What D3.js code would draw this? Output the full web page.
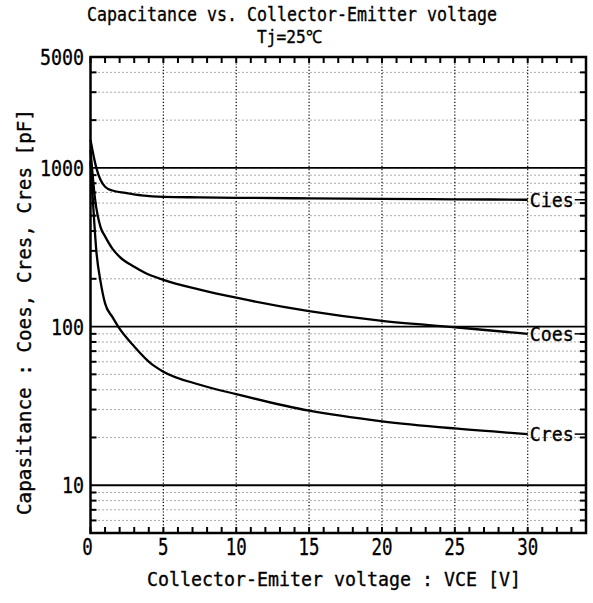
<!DOCTYPE html>
<html><head><meta charset="utf-8">
<script src="https://cdn.jsdelivr.net/npm/d3@7"></script>
<style>body{margin:0;background:#fff}svg{display:block}text{font-family:"DejaVu Sans Mono",monospace;fill:#000;stroke:#000;stroke-width:0.35}</style>
</head><body><svg id="c" width="593" height="603"></svg>
<script>
const titleLines = ["Capacitance vs. Collector-Emitter voltage", "Tj=25℃"];
const xLabel = "Collector-Emiter voltage : VCE [V]";
const yLabel = "Capasitance : Coes, Cres, Cres [pF]";
const xTickValues = [0, 5, 10, 15, 20, 25, 30];
const yTickValues = [10, 100, 1000, 5000];
const seriesNames = ["Cies", "Coes", "Cres"];
const ciesX = [0, 0.4, 1.0, 1.5, 2.4, 3.5, 5, 7.5, 10, 15, 20, 25, 30];
const ciesY = [1500, 1000, 760, 720, 696, 672, 657, 652, 648, 643, 638, 634, 630];
const coesX = [0, 0.3, 0.7, 1.0, 1.5, 2.0, 3.0, 3.7, 5, 7.5, 10, 15, 20, 25, 30];
const coesY = [1300, 650, 420, 370, 310, 275, 238, 219, 197, 171, 152, 125, 108.5, 99, 90];
const cresX = [0, 0.2, 0.4, 0.7, 1.0, 1.5, 1.9, 3.0, 4.2, 5, 7.5, 10, 15, 20, 25, 30];
const cresY = [1100, 550, 300, 190, 140, 115, 100, 75, 58, 52, 43, 37.5, 29.5, 25.3, 22.8, 21];

const svg = d3.select("#c");
const L = 90.5, R = 586, T = 57, B = 533;
const x = d3.scaleLinear().domain([0, 34]).range([L, R]);
const y = d3.scaleLog().domain([5, 5000]).range([B, T]);

function txt(g, s, cw, size) {
  return g.append("text").text(s).attr("font-size", size)
    .attr("textLength", cw * [...s].length).attr("lengthAdjust", "spacingAndGlyphs");
}

const minorY = [];
[1, 10, 100, 1000].forEach(d => { for (let k = 2; k <= 9; k++) minorY.push(d * k); });
const minorYs = Array.from(new Set(minorY)).filter(v => v > 5 && v < 5000);
svg.append("g").selectAll("line").data(minorYs).join("line")
  .attr("x1", L).attr("x2", R).attr("y1", d => y(d)).attr("y2", d => y(d))
  .attr("stroke", "#555").attr("stroke-width", 1).attr("stroke-dasharray", "1,3");
svg.append("g").selectAll("line").data(xTickValues.filter(v => v > 0)).join("line")
  .attr("x1", d => x(d)).attr("x2", d => x(d)).attr("y1", T).attr("y2", B)
  .attr("stroke", "#000").attr("stroke-width", 1.2).attr("stroke-dasharray", "1.2,2");
svg.append("g").selectAll("line").data([10, 100, 1000]).join("line")
  .attr("x1", L).attr("x2", R).attr("y1", d => y(d)).attr("y2", d => y(d))
  .attr("stroke", "#000").attr("stroke-width", 1.8);

const xMinor = d3.range(0, 35, 1);
const tk = svg.append("g").attr("stroke", "#000").attr("stroke-width", 2);
tk.selectAll(".xb").data(xMinor).join("line").attr("x1", d => x(d)).attr("x2", d => x(d)).attr("y1", B).attr("y2", B - 6);
tk.selectAll(".xt").data(xMinor).join("line").attr("x1", d => x(d)).attr("x2", d => x(d)).attr("y1", T).attr("y2", T + 6);
tk.selectAll(".yl").data(minorYs).join("line").attr("x1", L).attr("x2", L + 6).attr("y1", d => y(d)).attr("y2", d => y(d));
tk.selectAll(".yr").data(minorYs).join("line").attr("x1", R).attr("x2", R - 6).attr("y1", d => y(d)).attr("y2", d => y(d));

const line = d3.line().x(d => x(d[0])).y(d => y(d[1])).curve(d3.curveMonotoneX);
const series = [[ciesX, ciesY], [coesX, coesY], [cresX, cresY]];
series.forEach(([xs, ys], i) => {
  svg.append("path").datum(xs.map((v, j) => [v, ys[j]])).attr("d", line)
    .attr("fill", "none").attr("stroke", "#000").attr("stroke-width", 2.3);
  const ly = y(ys[ys.length - 1]);
  txt(svg, seriesNames[i], 11, 20).attr("x", x(30) + 2).attr("y", ly + 7);
  svg.append("line").attr("x1", x(30) + 47).attr("x2", R).attr("y1", ly).attr("y2", ly)
    .attr("stroke", "#000").attr("stroke-width", 1.5);
});

svg.append("rect").attr("x", L).attr("y", T).attr("width", R - L).attr("height", B - T)
  .attr("fill", "none").attr("stroke", "#000").attr("stroke-width", 2.5);

yTickValues.forEach(v => {
  const s = String(v);
  txt(svg, s, 11, 21).attr("x", 84 - 11 * s.length).attr("y", y(v) + 8);
});
xTickValues.forEach(v => {
  const s = String(v);
  txt(svg, s, 10.5, 23).attr("x", x(v) - 10.5 * s.length / 2 - (v === 0 ? 3 : 0)).attr("y", 555);
});

txt(svg, titleLines[0], 10, 19.5).attr("x", 87).attr("y", 21);
txt(svg, titleLines[1], 10.8, 18).attr("x", 257).attr("y", 43);
txt(svg, xLabel, 11, 20).attr("x", 147).attr("y", 586);
txt(svg, yLabel, 11.6, 20).attr("transform", "translate(31,515) rotate(-90)");
</script></body></html>
